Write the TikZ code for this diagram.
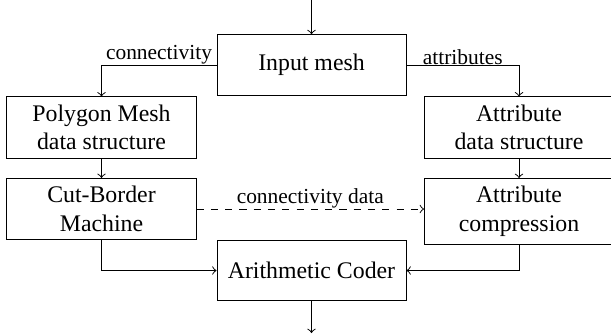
\documentclass[tikz,border=0pt]{standalone}
\usepackage{fontspec}
\setmainfont{Liberation Serif}
\begin{document}
\begin{tikzpicture}[x=0.42pt, y=-0.42pt,
    block/.style={draw, align=center, minimum width=79.4pt, minimum height=25.5pt, inner sep=3.33pt},
    lbl/.style={font=\small, inner sep=0pt}]
      \useasboundingbox (0,0) rectangle (611,333);
      \draw
        (311.5,65) node[block] (in){Input mesh}
        (101.5,127.5) node[block] (poly){Polygon Mesh\\data structure}
        (519,127.5) node[block] (attr){Attribute\\data structure}
        (101.5,209) node[block] (cbm){Cut-Border\\Machine}
        (519,178) node[block, anchor=north] (acmp){Attribute\\compression}
        (311.5,270.5) node[block] (ari){Arithmetic Coder};
      \coordinate (top) at (311.5,0);
      \coordinate (bot) at (311.5,333);
      \begin{scope}[->]
        \draw (top) to (in);
        \draw (in) -| node[lbl, above, pos=0.25] (lconn){connectivity} (poly);
        \draw (in) -| node[lbl, above, pos=0.25] (lattr){attributes} (attr);
        \draw (poly) to (cbm);
        \draw (attr) to (acmp);
        \draw[dashed] (cbm.east) -- node[lbl, above] (ldata){connectivity data} (cbm.east -| acmp.west);
        \draw (cbm) |- (ari);
        \draw (acmp) |- (ari);
        \draw (ari) to (bot);
      \end{scope}
    \end{tikzpicture}
\end{document}
